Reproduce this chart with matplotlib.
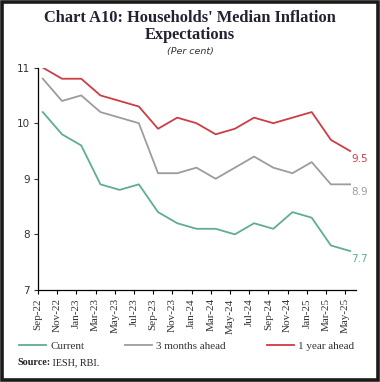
import matplotlib.pyplot as plt
from matplotlib.patches import Rectangle
import numpy as np

# survey rounds (bi-monthly), per cent
months = ["Sep-22", "Nov-22", "Jan-23", "Mar-23", "May-23", "Jul-23", "Sep-23",
          "Nov-23", "Jan-24", "Mar-24", "May-24", "Jul-24", "Sep-24", "Nov-24",
          "Jan-25", "Mar-25", "May-25"]
current = [10.2, 9.8, 9.6, 8.9, 8.8, 8.9, 8.4, 8.2, 8.1, 8.1, 8.0, 8.2, 8.1,
           8.4, 8.3, 7.8, 7.7]
three_months = [10.8, 10.4, 10.5, 10.2, 10.1, 10.0, 9.1, 9.1, 9.2, 9.0, 9.2,
                9.4, 9.2, 9.1, 9.3, 8.9, 8.9]
one_year = [11.0, 10.8, 10.8, 10.5, 10.4, 10.3, 9.9, 10.1, 10.0, 9.8, 9.9,
            10.1, 10.0, 10.1, 10.2, 9.7, 9.5]

GREEN = "#5fae8c"
GREY = "#9c9c9c"
RED = "#cc3d45"
SERIF = "Liberation Serif"

fig = plt.figure(figsize=(3.8, 3.82), dpi=100)
ax = fig.add_axes([0.10, 0.241, 0.837, 0.582])

x = np.arange(len(months)) + 0.25
series = [(current, GREEN, "Current"),
          (three_months, GREY, "3 months ahead"),
          (one_year, RED, "1 year ahead")]
for vals, col, lab in series:
    ax.plot(x, vals, color=col, lw=1.3, label=lab)
    ax.annotate(f"{vals[-1]:.1f}", (x[-1], vals[-1]), textcoords="offset points",
                xytext=(1, -2), ha="left", va="top", color=col, fontsize=7.5)

ax.set_xlim(0, 16.56)
ax.set_ylim(7, 11)
ax.set_yticks([7, 8, 9, 10, 11])
ax.set_xticks(np.arange(len(months)))
ax.set_xticklabels(months, rotation=90, fontsize=8, family=SERIF, color="#333333")
ax.tick_params(axis="y", labelsize=7.5, length=3, width=0.8, colors="#333333", pad=3)
ax.tick_params(axis="x", length=3, width=0.8, pad=3)
for s in ["top", "right"]:
    ax.spines[s].set_visible(False)
for s in ["left", "bottom"]:
    ax.spines[s].set_linewidth(0.9)

fig.text(0.5, 0.952, "Chart A10: Households' Median Inflation", ha="center", va="center",
         fontsize=11.8, fontweight="bold", family=SERIF, color="#222233")
fig.text(0.5, 0.908, "Expectations", ha="center", va="center",
         fontsize=11.8, fontweight="bold", family=SERIF, color="#222233")
fig.text(0.5, 0.864, "(Per cent)", ha="center", va="center",
         fontsize=6.8, style="italic", color="#333333")

leg = fig.legend(loc="center left", bbox_to_anchor=(0.024, 0.094), ncol=3, frameon=False,
                 handlelength=2.4, columnspacing=3.7, handletextpad=0.4,
                 prop={"family": SERIF, "size": 8})
for t in leg.get_texts():
    t.set_color("#333333")

src = fig.text(0.045, 0.05, "Source:", ha="left", va="center", fontsize=7.3,
               family=SERIF, fontweight="bold", color="#222222")
ax.annotate(" IESH, RBI.", xy=(1, 0.5), xycoords=src, ha="left", va="center",
            fontsize=7.3, family=SERIF, color="#222222", annotation_clip=False)

fig.patches.append(Rectangle((0.006, 0.006), 0.988, 0.988, transform=fig.transFigure,
                             fill=False, edgecolor="#1a1a1a", lw=2.6))

fig.savefig("out.png", dpi=100)
